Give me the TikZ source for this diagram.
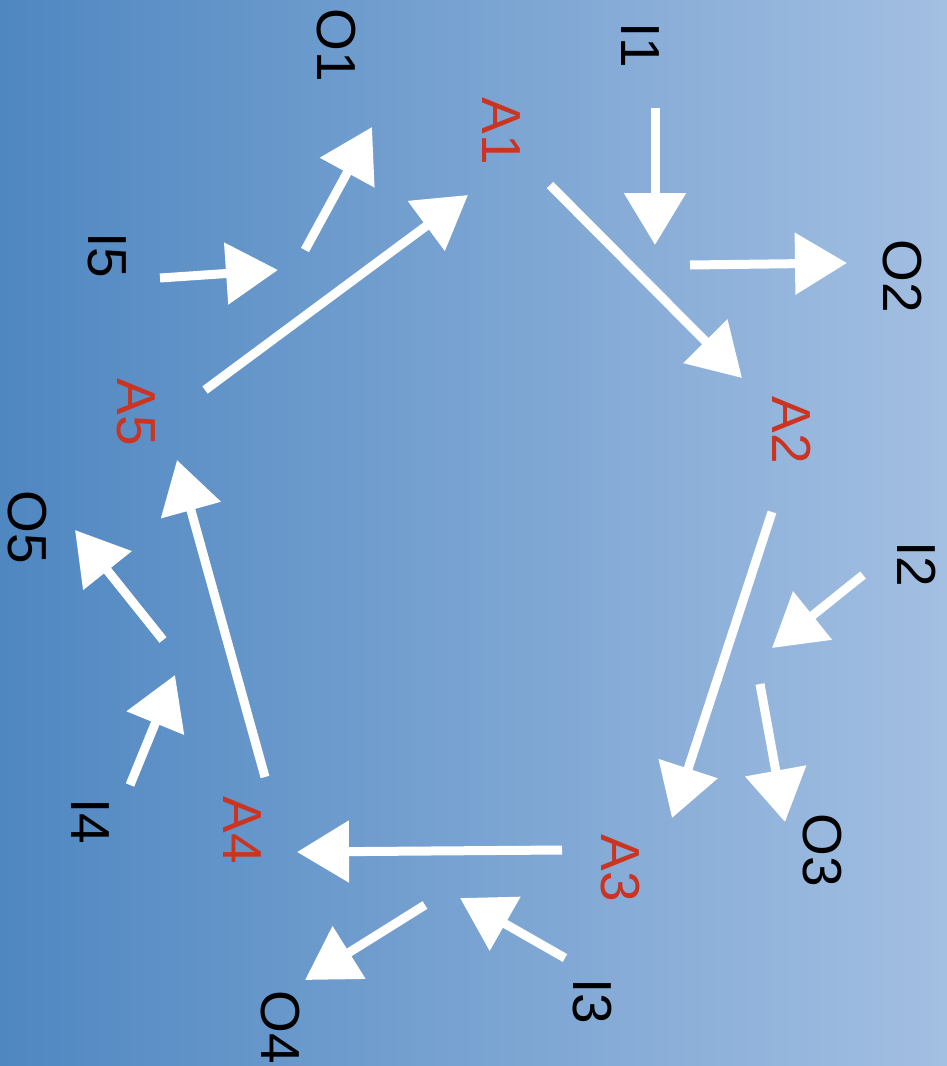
\documentclass[tikz,border=0pt]{standalone}
\usepackage{fontspec}
\setmainfont{Liberation Sans}
\usetikzlibrary{arrows.meta}
\definecolor{bgleft}{RGB}{79,135,193}
\definecolor{bgright}{RGB}{163,191,226}
\definecolor{actred}{RGB}{204,52,34}
\tikzset{
  lbl/.style={rotate=-90, font=\fontsize{55}{55}\selectfont, inner sep=0pt},
  act/.style={lbl, text=actred},
  io/.style={lbl, text=black},
  chalk/.style={draw=white, line width=9pt, -{Triangle[length=52pt,width=60pt]}, fill=white}
}
\begin{document}
\begin{tikzpicture}[x=1pt,y=-1pt]
\shade[left color=bgleft, right color=bgright] (0,0) rectangle (947,1066);
\useasboundingbox (0,0) rectangle (947,1066);
% labels
\node[io] (I1) at (640,45) {I1};
\node[io] (O1) at (336,45) {O1};
\node[act] (A1) at (501,131) {A1};
\node[io] (O2) at (902,276) {O2};
\node[io] (I5) at (107,255) {I5};
\node[act] (A5) at (136,412) {A5};
\node[act] (A2) at (792,430) {A2};
\node[io] (O5) at (27,527) {O5};
\node[io] (I2) at (917,564) {I2};
\node[io] (I4) at (90,821) {I4};
\node[act] (A4) at (242,830) {A4};
\node[act] (A3) at (620,868) {A3};
\node[io] (O3) at (822,850) {O3};
\node[io] (O4) at (280,1027) {O4};
\node[io] (I3) at (592,1001) {I3};
% arrow end points
\coordinate (i1s) at (655,108);  \coordinate (i1e) at (655,245);
\coordinate (o2s) at (690,265);  \coordinate (o2e) at (847,263);
\coordinate (a12s) at (550,185); \coordinate (a12e) at (742,378);
\coordinate (i5s) at (160,278);  \coordinate (i5e) at (278,270);
\coordinate (o1s) at (305,250);  \coordinate (o1e) at (372,127);
\coordinate (a51s) at (205,390); \coordinate (a51e) at (468,195);
\coordinate (a23s) at (772,512); \coordinate (a23e) at (672,818);
\coordinate (i2s) at (863,575);  \coordinate (i2e) at (772,648);
\coordinate (o3s) at (760,684);  \coordinate (o3e) at (785,822);
\coordinate (a34s) at (562,850); \coordinate (a34e) at (297,852);
\coordinate (i3s) at (565,958);  \coordinate (i3e) at (460,898);
\coordinate (o4s) at (425,905);  \coordinate (o4e) at (305,980);
\coordinate (a45s) at (265,777); \coordinate (a45e) at (177,460);
\coordinate (i4s) at (130,785);  \coordinate (i4e) at (175,675);
\coordinate (o5s) at (163,640);  \coordinate (o5e) at (75,530);
% arrows
\foreach \s/\e in {i1s/i1e,o2s/o2e,a12s/a12e,i5s/i5e,o1s/o1e,a51s/a51e,a23s/a23e,i2s/i2e,o3s/o3e,a34s/a34e,i3s/i3e,o4s/o4e,a45s/a45e,i4s/i4e,o5s/o5e}
  \draw[chalk] (\s) -- (\e);
\end{tikzpicture}
\end{document}
